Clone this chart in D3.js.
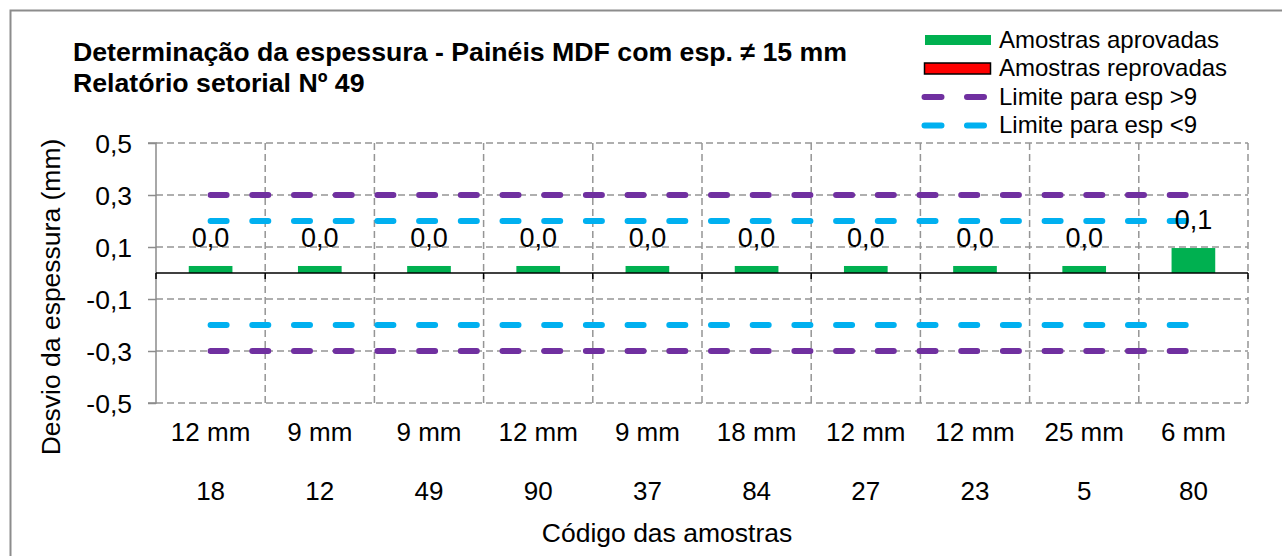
<!DOCTYPE html>
<html><head><meta charset="utf-8">
<script src="https://cdn.jsdelivr.net/npm/d3@7"></script>
<style>body{margin:0;background:#fff}svg{display:block}text{font-family:"Liberation Sans",Arial,sans-serif}</style>
</head><body><svg id="c" width="1282" height="556"></svg>
<script>
const sizes = ["12 mm","9 mm","9 mm","12 mm","9 mm","18 mm","12 mm","12 mm","25 mm","6 mm"];
const codes = ["18","12","49","90","37","84","27","23","5","80"];
const approved = [0.027,0.027,0.027,0.027,0.027,0.027,0.027,0.027,0.027,0.096];
const rejected = [0,0,0,0,0,0,0,0,0,0];
const limitAbove9 = [0.3,0.3,0.3,0.3,0.3,0.3,0.3,0.3,0.3,0.3];
const limitBelow9 = [0.2,0.2,0.2,0.2,0.2,0.2,0.2,0.2,0.2,0.2];
const yTicks = [0.5,0.3,0.1,-0.1,-0.3,-0.5];
const titleLines = ["Determinação da espessura - Painéis MDF com esp. ≠ 15 mm","Relatório setorial Nº 49"];
const legendItems = ["Amostras aprovadas","Amostras reprovadas","Limite para esp >9","Limite para esp <9"];

const svg = d3.select("#c");
const L=156, R=1248, T=143, B=403;
const x = d3.scaleBand().domain(d3.range(codes.length)).range([L,R]).padding(0);
const y = d3.scaleLinear().domain([-0.5,0.5]).range([B,T]);
const fmt = v => d3.format(".1f")(v).replace(".",",").replace("\u2212","-");
const grid="#959595";

svg.append("rect").attr("x",10.5).attr("y",10.5).attr("width",1300).attr("height",600).attr("fill","none").attr("stroke","#8c8c8c").attr("stroke-width",2);

// horizontal gridlines
svg.append("g").selectAll("line").data(yTicks).join("line")
  .attr("x1",L).attr("x2",R).attr("y1",d=>y(d)).attr("y2",d=>y(d))
  .attr("stroke",grid).attr("stroke-width",1.5).attr("stroke-dasharray","7 4");
// vertical gridlines
const bounds = d3.range(1,codes.length+1).map(i=>x(i-1)+x.bandwidth());
svg.append("g").selectAll("line").data(bounds).join("line")
  .attr("x1",d=>d).attr("x2",d=>d).attr("y1",T).attr("y2",B)
  .attr("stroke",grid).attr("stroke-width",1.5).attr("stroke-dasharray","7 4");

// y axis
const yAxis = d3.axisLeft(y).tickValues(yTicks).tickSize(8).tickFormat(fmt);
const gy = svg.append("g").attr("transform",`translate(${L},0)`).call(yAxis);
gy.select(".domain").attr("stroke","#8c8c8c").attr("stroke-width",1.5).attr("d",`M-8,${T}H0V${B}H-8`);
gy.selectAll(".tick line").attr("stroke","#8c8c8c").attr("stroke-width",1.5);
gy.selectAll(".tick text").attr("font-size",26.5).attr("fill","#000").attr("x",-24).attr("dy","0.34em").style("font-family","Liberation Sans, Arial, sans-serif");

// bars
const bw = x.bandwidth()*0.4;
svg.append("g").selectAll("rect").data(approved).join("rect")
  .attr("x",(d,i)=>x(i)+(x.bandwidth()-bw)/2).attr("width",bw)
  .attr("y",d=>y(Math.max(0,d))).attr("height",d=>Math.abs(y(d)-y(0)))
  .attr("fill","#00B050");
svg.append("g").selectAll("rect").data(rejected).join("rect")
  .attr("x",(d,i)=>x(i)+(x.bandwidth()-bw)/2).attr("width",bw)
  .attr("y",d=>y(Math.max(0,d))).attr("height",d=>Math.abs(y(d)-y(0)))
  .attr("fill","#FF0000").attr("stroke","#000").attr("stroke-width",d=>d?1:0);

// x axis at zero
const xAxis = d3.axisBottom(x).tickSize(0).tickFormat("");
const gx = svg.append("g").attr("transform",`translate(0,${y(0)})`).call(xAxis);
gx.select(".domain").attr("stroke","#000").attr("stroke-width",1.5).attr("d",`M${L},0H${R}`);
svg.append("g").selectAll("line").data([L,...bounds]).join("line")
  .attr("x1",d=>d).attr("x2",d=>d).attr("y1",y(0)).attr("y2",y(0)+6)
  .attr("stroke","#000").attr("stroke-width",1.5);

// limit lines
const cx = i => x(i)+x.bandwidth()/2;
const line = d3.line().x((d,i)=>cx(i)).y(d=>y(d));
const limits = [
  {data:limitAbove9, c:"#7030A0"},
  {data:limitAbove9.map(v=>-v), c:"#7030A0"},
  {data:limitBelow9, c:"#00B0F0"},
  {data:limitBelow9.map(v=>-v), c:"#00B0F0"}
];
svg.append("g").selectAll("path").data(limits).join("path")
  .attr("d",d=>line(d.data)).attr("fill","none").attr("stroke",d=>d.c)
  .attr("stroke-width",6).attr("stroke-linecap","round").attr("stroke-dasharray","16 25.7");

// data labels
svg.append("g").selectAll("text").data(approved).join("text")
  .attr("x",(d,i)=>cx(i)).attr("y",d=>y(Math.max(0,d))-19)
  .attr("text-anchor","middle").attr("font-size",27).text(d=>fmt(d));

// category labels
svg.append("g").selectAll("text").data(sizes).join("text")
  .attr("x",(d,i)=>cx(i)).attr("y",441).attr("text-anchor","middle").attr("font-size",26).text(d=>d);
svg.append("g").selectAll("text").data(codes).join("text")
  .attr("x",(d,i)=>cx(i)).attr("y",500).attr("text-anchor","middle").attr("font-size",26).text(d=>d);
svg.append("text").attr("x",667).attr("y",542).attr("text-anchor","middle").attr("font-size",26.5).text("Código das amostras");
svg.append("text").attr("transform","translate(60,297) rotate(-90)").attr("text-anchor","middle").attr("font-size",26.5).text("Desvio da espessura (mm)");

// title
svg.append("g").selectAll("text").data(titleLines).join("text")
  .attr("x",73).attr("y",(d,i)=>61+i*31).attr("font-size",26.7).attr("font-weight","bold").text(d=>d);

// legend
const lg = svg.append("g");
const ly = [40,68.5,97,125.5];
lg.append("rect").attr("x",925).attr("y",35).attr("width",66).attr("height",10).attr("fill","#00B050");
lg.append("rect").attr("x",924.5).attr("y",63).attr("width",66).attr("height",11).attr("fill","#FF0000").attr("stroke","#000").attr("stroke-width",1.5);
[["#7030A0",ly[2]],["#00B0F0",ly[3]]].forEach(([c,yy])=>{
  lg.append("line").attr("x1",924.5).attr("x2",985).attr("y1",yy).attr("y2",yy)
    .attr("stroke",c).attr("stroke-width",6).attr("stroke-linecap","round").attr("stroke-dasharray","17 25.5");
});
lg.selectAll("text").data(legendItems).join("text")
  .attr("x",999).attr("y",(d,i)=>ly[i]+7.5).attr("font-size",24).text(d=>d);
</script></body></html>
